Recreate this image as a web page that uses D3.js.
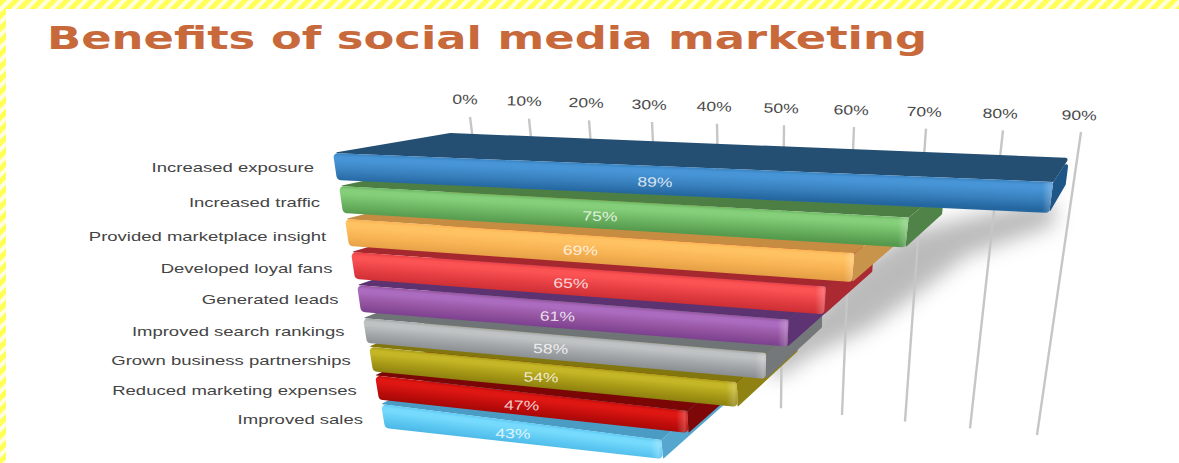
<!DOCTYPE html>
<html>
<head>
<meta charset="utf-8">
<style>
  html, body { margin: 0; padding: 0; background: #fff; }
  svg { display: block; }
  text { font-family: "Liberation Sans", Arial, sans-serif; }
</style>
<script src="https://cdn.jsdelivr.net/npm/d3@7/dist/d3.min.js"></script>
</head>
<body>
<svg id="chart" width="1179" height="463"></svg>
<script>
// Survey results, one bar per benefit
const categories = [
  "Increased exposure", "Increased traffic", "Provided marketplace insight",
  "Developed loyal fans", "Generated leads", "Improved search rankings",
  "Grown business partnerships", "Reduced marketing expenses", "Improved sales"
];
const values = [89, 75, 69, 65, 61, 58, 54, 47, 43];
const tickValues = [0, 10, 20, 30, 40, 50, 60, 70, 80, 90];
const titleText = "Benefits of social media marketing";

// Bar shading: highlight, body, lower edge, top face, end face
const barShades = [
  ["#4795d6", "#3a82c0", "#2467a0", "#244e72", "#1e5688"],
  ["#86cf7a", "#6db663", "#55994d", "#4d7f45", "#4f8347"],
  ["#ffc262", "#f8b354", "#e5a046", "#c58c42", "#c8934a"],
  ["#fb5254", "#e63f43", "#cb2e34", "#a5282e", "#ab2a31"],
  ["#ab6bbf", "#94549f", "#793e8e", "#5c3270", "#5e3373"],
  ["#bfc2c3", "#a4a7a9", "#898d90", "#6f7476", "#74787b"],
  ["#c4b626", "#a89a16", "#8a7d0e", "#82760e", "#8f8212"],
  ["#de1713", "#c00d0b", "#9c0706", "#7a0605", "#7e0808"],
  ["#76dafc", "#5cc8f2", "#48b3e2", "#4b9cc4", "#55a7cf"]
];

const svg = d3.select("#chart");
const defs = svg.append("defs");

// Hatched page edge
const hatch = defs.append("pattern")
  .attr("id", "hatch").attr("patternUnits", "userSpaceOnUse")
  .attr("width", 9).attr("height", 9)
  .attr("patternTransform", "rotate(-45)");
hatch.append("rect").attr("width", 9).attr("height", 9).attr("fill", "#fffde0");
hatch.append("rect").attr("width", 9).attr("height", 5).attr("fill", "#ffff55");

svg.append("rect").attr("width", 1179).attr("height", 463).attr("fill", "#fff");
svg.append("rect").attr("width", 1179).attr("height", 9).attr("fill", "url(#hatch)");
svg.append("rect").attr("width", 6).attr("height", 463).attr("fill", "url(#hatch)");

svg.append("text")
  .attr("x", 47).attr("y", 49)
  .attr("textLength", 880).attr("lengthAdjust", "spacingAndGlyphs")
  .style("font-family", "'DejaVu Sans', sans-serif")
  .style("font-weight", "bold").style("font-size", "32px")
  .attr("fill", "#c8693c")
  .text(titleText);

// Axis scales: the value axis widens with distance along the receding plane
const gridTopX = d3.scaleLinear().domain(tickValues)
  .range([470, 529, 589, 652, 717, 784, 854, 926, 1003, 1081]);
const gridTopY = d3.scaleLinear().domain([0, 90]).range([117, 132]);
const gridBottomX = d3.scaleLinear().domain(tickValues)
  .range([503, 556, 610, 665, 722, 781, 842, 905, 970, 1037]);
const gridBottomY = d3.scaleLinear().domain([0, 90]).range([375, 435]);
const labelX = d3.scaleLinear().domain(tickValues)
  .range([465, 524, 586, 649, 714, 781, 851, 924, 1000, 1079]);
const labelY = d3.scaleLinear().domain([0, 90]).range([104, 120]);

// Row scales for the stacked bars
const rowLeft = d3.scaleLinear().domain([0, 8]).range([333, 381]);
const rowTop = d3.scaleLinear().domain([0, 5, 8]).range([153, 318, 404]);
const rowWiden = d3.scaleLinear().domain([0, 1, 2, 3, 4, 8])
  .range([1.194, 1.152, 1.136, 1.131, 1.103, 1.049]);
const rowDrop = d3.scaleLinear().domain([0, 2, 8]).range([29, 34, 36]);
const rowHeightLeft = d3.scaleLinear().domain([0, 4, 5, 8]).range([27, 27, 25, 24]);
const rowHeightRight = d3.scaleLinear().domain([0, 4, 6, 8]).range([31, 27, 25, 19]);
const rowEndLean = d3.scaleLinear().domain([0, 8]).range([-4, 2]);
const rowLabelShift = d3.scaleLinear().domain([0, 1, 8]).range([-9, -5, -3]);

const vanish = [1167, 10];
const depth = 0.14;
const toVanish = ([x, y]) => [x + (vanish[0] - x) * depth, y + (vanish[1] - y) * depth];
const lerp = (p, q, f) => [p[0] + (q[0] - p[0]) * f, p[1] + (q[1] - p[1]) * f];

const widthAt = (row, v) => (gridTopX(v) - gridTopX(0)) * rowWiden(row);

function barCorners(row, v) {
  const left = rowLeft(row), top = rowTop(row);
  const right = left + widthAt(row, v);
  const a = [left, top];
  const b = [right, top + rowDrop(row)];
  const c = [right + rowEndLean(row), b[1] + rowHeightRight(row)];
  const d = [left + 4, top + rowHeightLeft(row)];
  return { a, b, c, d };
}

// Closed outline whose corners are rounded by the given radii
function roundedOutline(pts, radii) {
  const p = d3.path();
  const n = pts.length;
  const start = lerp(pts[n - 1], pts[0], 0.5);
  p.moveTo(start[0], start[1]);
  pts.forEach((pt, i) => {
    const next = pts[(i + 1) % n];
    p.arcTo(pt[0], pt[1], next[0], next[1], radii[i]);
  });
  p.closePath();
  return p.toString();
}

// Shadow thrown on the back plane, following the bar ends
const blur = defs.append("filter").attr("id", "soft")
  .attr("x", "-30%").attr("y", "-30%").attr("width", "160%").attr("height", "160%");
blur.append("feGaussianBlur").attr("stdDeviation", 10);

const shadowOffsets = [[6, 12], [62, 8], [62, 14], [45, 14], [25, 8], [10, 0]];
const shadowEdge = shadowOffsets.map(([dx, dy], i) => {
  const { c } = barCorners(i, values[i]);
  return [c[0] + dx, c[1] + dy];
});
const shadowInner = d3.range(shadowOffsets.length).reverse().map(i => {
  const { b, c } = barCorners(i, values[i]);
  return lerp(b, c, 0.5);
});
svg.append("path")
  .attr("d", d3.line().curve(d3.curveLinearClosed)([...shadowEdge, ...shadowInner]))
  .attr("fill", "#a4a4a4").attr("opacity", 0.75)
  .attr("filter", "url(#soft)");

// Gridlines and percentage labels
svg.append("g").selectAll("line").data(tickValues).join("line")
  .attr("x1", d => gridTopX(d)).attr("y1", d => gridTopY(d))
  .attr("x2", d => gridBottomX(d)).attr("y2", d => gridBottomY(d))
  .attr("stroke", "#c6c6c6").attr("stroke-width", 2.4);

svg.append("g").selectAll("text").data(tickValues).join("text")
  .attr("transform", d => `translate(${labelX(d)},${labelY(d)}) rotate(1.5) scale(1.3,1)`)
  .attr("text-anchor", "middle")
  .style("font-size", "13.5px").attr("fill", "#4a4a4a")
  .text(d => d + "%");

// Bars, lowest row first so each one sits under the row above it
const order = d3.range(values.length).reverse();
const bars = svg.append("g");

order.forEach(i => {
  const v = values[i];
  const shade = barShades[i];
  const { a, b, c, d } = barCorners(i, v);
  const g = bars.append("g");

  // Gradient runs square to the sloping bar
  const slope = (b[1] - a[1]) / (b[0] - a[0]);
  const h = rowHeightLeft(i) + 1;
  const grad = defs.append("linearGradient")
    .attr("id", "front" + i).attr("gradientUnits", "userSpaceOnUse")
    .attr("x1", a[0]).attr("y1", a[1])
    .attr("x2", a[0] - slope * h).attr("y2", a[1] + h);
  [[0, shade[1]], [0.12, shade[0]], [0.25, shade[0]], [0.6, shade[1]], [1, shade[2]]]
    .forEach(([o, col]) => grad.append("stop").attr("offset", o).attr("stop-color", col));

  const face = (pts, radii, fill) => g.append("path")
    .attr("d", roundedOutline(pts, radii)).attr("fill", fill);

  face([a, toVanish(a), toVanish(b), b], [0.4, 10, 2, 0.2], shade[3]);
  face([b, toVanish(b), toVanish(c), c], [0.2, 2, 2, 0.5], shade[4]);
  face([a, b, c, d], [4, 2, 4, 5], `url(#front${i})`);

  // Soft sheen where the front face rolls over at its far end
  const t = 11 / (b[0] - a[0]);
  const sheen = defs.append("linearGradient")
    .attr("id", "sheen" + i).attr("gradientUnits", "userSpaceOnUse")
    .attr("x1", b[0] - 11).attr("y1", b[1]).attr("x2", b[0]).attr("y2", b[1]);
  sheen.append("stop").attr("offset", 0).attr("stop-color", "#fff").attr("stop-opacity", 0);
  sheen.append("stop").attr("offset", 0.75).attr("stop-color", "#fff").attr("stop-opacity", 0.22);
  sheen.append("stop").attr("offset", 1).attr("stop-color", "#fff").attr("stop-opacity", 0.08);
  g.append("path")
    .attr("d", roundedOutline([lerp(b, a, t), b, c, lerp(c, d, t)], [0, 2, 4, 0]))
    .attr("fill", `url(#sheen${i})`);

  // Value label halfway along the axis span of the bar
  const mid = a[0] + widthAt(i, v / 2);
  const frac = (mid - a[0]) / (b[0] - a[0]);
  const midY = a[1] + (b[1] - a[1]) * frac +
    (rowHeightLeft(i) + (rowHeightRight(i) - rowHeightLeft(i)) * frac) / 2;
  g.append("text")
    .attr("transform", `translate(${mid + rowLabelShift(i)},${midY + 6}) rotate(1.5) scale(1.3,1)`)
    .attr("text-anchor", "middle")
    .style("font-size", "13.5px")
    .attr("fill", "#fff").attr("fill-opacity", 0.8)
    .text(v + "%");
});

// Category labels
const catRight = d3.scaleLinear().domain([0, 8]).range([314, 363]);
const catY = d3.scaleLinear().domain([0, 2, 5, 8]).range([172, 241, 336, 424]);
svg.append("g").selectAll("text").data(categories).join("text")
  .attr("transform", (d, i) => `translate(${catRight(i)},${catY(i)}) scale(1.37,1)`)
  .attr("text-anchor", "end")
  .style("font-size", "13.5px").attr("fill", "#444")
  .text(d => d);
</script>
</body>
</html>
